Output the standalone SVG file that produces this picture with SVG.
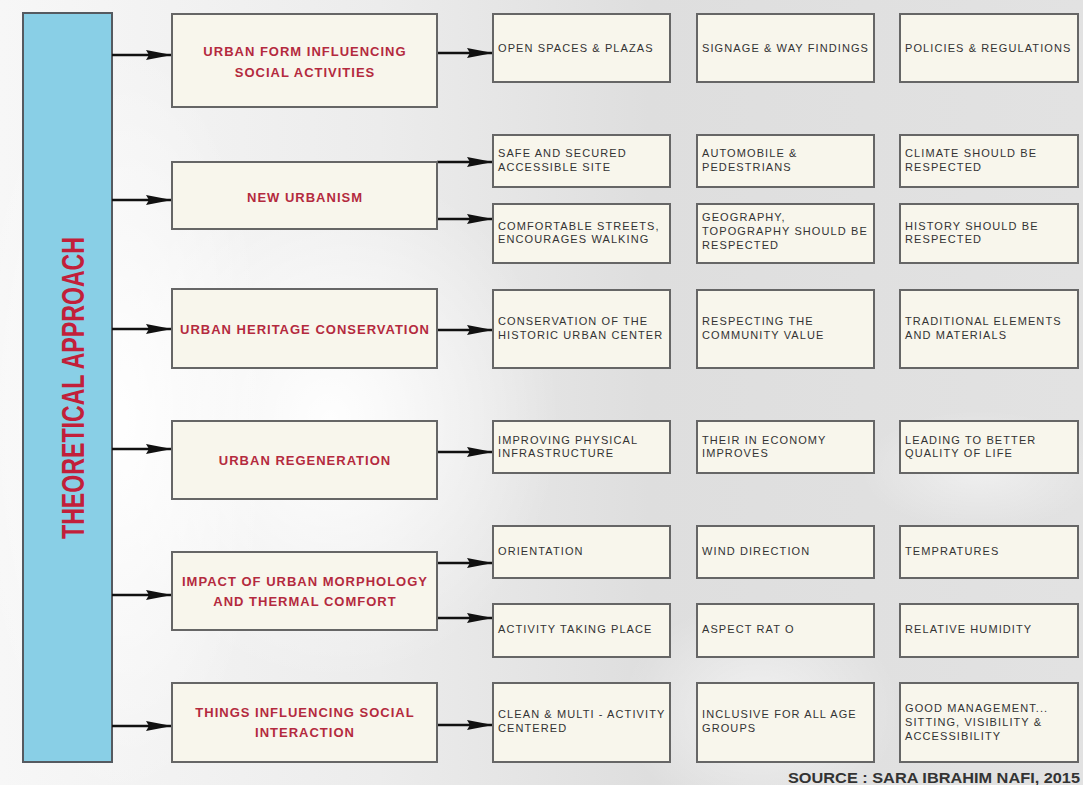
<svg xmlns="http://www.w3.org/2000/svg" width="1083" height="785" viewBox="0 0 1083 785">
  <defs>
    <linearGradient id="bg" x1="0" y1="0" x2="1" y2="0">
      <stop offset="0" stop-color="#f7f7f7"/>
      <stop offset="0.35" stop-color="#ececec"/>
      <stop offset="0.6" stop-color="#dedede"/>
      <stop offset="1" stop-color="#e2e2e2"/>
    </linearGradient>
    <radialGradient id="glow1" cx="0.5" cy="0.5" r="0.5">
      <stop offset="0" stop-color="#ffffff" stop-opacity="0.95"/>
      <stop offset="1" stop-color="#ffffff" stop-opacity="0"/>
    </radialGradient>
    <marker id="arrow" viewBox="0 0 26 10" refX="26" refY="5" markerWidth="26" markerHeight="10" markerUnits="userSpaceOnUse" orient="auto">
      <path d="M0,0 L26,5 L0,10 L3,5 z" fill="#111"/>
    </marker>
    <style>
      .box { fill: #f8f6ec; stroke: #666; stroke-width: 2; }
      .bar { fill: #89cfe6; stroke: #555a60; stroke-width: 2; }
      .mid { font-family: "Liberation Sans", Arial, sans-serif; font-weight: bold; font-size: 13px; fill: #b42a3e; text-anchor: middle; letter-spacing: 1px; }
      .leaf { font-family: "Liberation Sans", Arial, sans-serif; font-size: 11px; fill: #333; letter-spacing: 1.1px; }
      .title { font-family: "Liberation Sans", Arial, sans-serif; font-weight: bold; font-size: 31px; fill: #c21f3a; text-anchor: middle; }
      .src { font-family: "Liberation Sans", Arial, sans-serif; font-weight: bold; font-size: 15px; fill: #333; text-anchor: end; }
      .conn line { stroke: #111; stroke-width: 2.6; marker-end: url(#arrow); }
    </style>
  </defs>

  <rect x="0" y="0" width="1083" height="785" fill="url(#bg)"/>
  <ellipse cx="330" cy="420" rx="230" ry="260" fill="url(#glow1)"/>
  <ellipse cx="120" cy="420" rx="150" ry="380" fill="url(#glow1)"/>
  <ellipse cx="760" cy="710" rx="140" ry="110" fill="url(#glow1)" opacity="0.6"/>
  <ellipse cx="980" cy="470" rx="120" ry="60" fill="url(#glow1)" opacity="0.5"/>

  <g id="theoretical-approach">
    <rect class="bar" x="23" y="13" width="89" height="749"/>
    <text class="title" transform="translate(84,388) rotate(-90)" x="0" y="0" textLength="302" lengthAdjust="spacingAndGlyphs">THEORETICAL APPROACH</text>
  </g>

  <g class="conn" id="connectors">
    <line x1="112" y1="55" x2="172" y2="55"/>
    <line x1="112" y1="200" x2="172" y2="200"/>
    <line x1="112" y1="329" x2="172" y2="329"/>
    <line x1="112" y1="449" x2="172" y2="449"/>
    <line x1="112" y1="595" x2="172" y2="595"/>
    <line x1="112" y1="726" x2="172" y2="726"/>
    <line x1="437" y1="53" x2="493" y2="53"/>
    <line x1="437" y1="162" x2="493" y2="162"/>
    <line x1="437" y1="219" x2="493" y2="219"/>
    <line x1="437" y1="330" x2="493" y2="330"/>
    <line x1="437" y1="452" x2="493" y2="452"/>
    <line x1="437" y1="563" x2="493" y2="563"/>
    <line x1="437" y1="618" x2="493" y2="618"/>
    <line x1="437" y1="725" x2="493" y2="725"/>
  </g>

  <g id="urban-form">
    <rect class="box" x="172" y="14" width="265" height="93"/>
    <text class="mid" x="305" y="56">URBAN FORM INFLUENCING</text>
    <text class="mid" x="305" y="77">SOCIAL ACTIVITIES</text>
  </g>
  <g id="new-urbanism">
    <rect class="box" x="172" y="162" width="265" height="67"/>
    <text class="mid" x="305" y="202">NEW URBANISM</text>
  </g>
  <g id="heritage">
    <rect class="box" x="172" y="289" width="265" height="79"/>
    <text class="mid" x="305" y="334">URBAN HERITAGE CONSERVATION</text>
  </g>
  <g id="regeneration">
    <rect class="box" x="172" y="421" width="265" height="78"/>
    <text class="mid" x="305" y="465">URBAN REGENERATION</text>
  </g>
  <g id="morphology">
    <rect class="box" x="172" y="552" width="265" height="78"/>
    <text class="mid" x="305" y="586">IMPACT OF URBAN MORPHOLOGY</text>
    <text class="mid" x="305" y="606">AND THERMAL COMFORT</text>
  </g>
  <g id="social-interaction">
    <rect class="box" x="172" y="683" width="265" height="79"/>
    <text class="mid" x="305" y="717">THINGS INFLUENCING SOCIAL</text>
    <text class="mid" x="305" y="737">INTERACTION</text>
  </g>

  <!-- row 1 -->
  <g id="open-spaces">
    <rect class="box" x="493" y="14" width="177" height="68"/>
    <text class="leaf" x="498" y="52">OPEN SPACES &amp; PLAZAS</text>
  </g>
  <g id="signage">
    <rect class="box" x="697" y="14" width="177" height="68"/>
    <text class="leaf" x="702" y="52">SIGNAGE &amp; WAY FINDINGS</text>
  </g>
  <g id="policies">
    <rect class="box" x="900" y="14" width="178" height="68"/>
    <text class="leaf" x="905" y="52">POLICIES &amp; REGULATIONS</text>
  </g>

  <!-- row 2a -->
  <g id="safe-site">
    <rect class="box" x="493" y="135" width="177" height="52"/>
    <text class="leaf" x="498" y="157">SAFE AND SECURED</text>
    <text class="leaf" x="498" y="171">ACCESSIBLE SITE</text>
  </g>
  <g id="automobile">
    <rect class="box" x="697" y="135" width="177" height="52"/>
    <text class="leaf" x="702" y="157">AUTOMOBILE &amp;</text>
    <text class="leaf" x="702" y="171">PEDESTRIANS</text>
  </g>
  <g id="climate">
    <rect class="box" x="900" y="135" width="178" height="52"/>
    <text class="leaf" x="905" y="157">CLIMATE SHOULD BE</text>
    <text class="leaf" x="905" y="171">RESPECTED</text>
  </g>

  <!-- row 2b -->
  <g id="streets">
    <rect class="box" x="493" y="204" width="177" height="59"/>
    <text class="leaf" x="498" y="230">COMFORTABLE STREETS,</text>
    <text class="leaf" x="498" y="243">ENCOURAGES WALKING</text>
  </g>
  <g id="geography">
    <rect class="box" x="697" y="204" width="177" height="59"/>
    <text class="leaf" x="702" y="221">GEOGRAPHY,</text>
    <text class="leaf" x="702" y="235">TOPOGRAPHY SHOULD BE</text>
    <text class="leaf" x="702" y="249">RESPECTED</text>
  </g>
  <g id="history">
    <rect class="box" x="900" y="204" width="178" height="59"/>
    <text class="leaf" x="905" y="230">HISTORY SHOULD BE</text>
    <text class="leaf" x="905" y="243">RESPECTED</text>
  </g>

  <!-- row 3 -->
  <g id="conservation">
    <rect class="box" x="493" y="290" width="177" height="78"/>
    <text class="leaf" x="498" y="325">CONSERVATION OF THE</text>
    <text class="leaf" x="498" y="339">HISTORIC URBAN CENTER</text>
  </g>
  <g id="community">
    <rect class="box" x="697" y="290" width="177" height="78"/>
    <text class="leaf" x="702" y="325">RESPECTING THE</text>
    <text class="leaf" x="702" y="339">COMMUNITY VALUE</text>
  </g>
  <g id="traditional">
    <rect class="box" x="900" y="290" width="178" height="78"/>
    <text class="leaf" x="905" y="325">TRADITIONAL ELEMENTS</text>
    <text class="leaf" x="905" y="339">AND MATERIALS</text>
  </g>

  <!-- row 4 -->
  <g id="infrastructure">
    <rect class="box" x="493" y="421" width="177" height="52"/>
    <text class="leaf" x="498" y="444">IMPROVING PHYSICAL</text>
    <text class="leaf" x="498" y="457">INFRASTRUCTURE</text>
  </g>
  <g id="economy">
    <rect class="box" x="697" y="421" width="177" height="52"/>
    <text class="leaf" x="702" y="444">THEIR IN ECONOMY</text>
    <text class="leaf" x="702" y="457">IMPROVES</text>
  </g>
  <g id="quality">
    <rect class="box" x="900" y="421" width="178" height="52"/>
    <text class="leaf" x="905" y="444">LEADING TO BETTER</text>
    <text class="leaf" x="905" y="457">QUALITY OF LIFE</text>
  </g>

  <!-- row 5a -->
  <g id="orientation">
    <rect class="box" x="493" y="526" width="177" height="52"/>
    <text class="leaf" x="498" y="555">ORIENTATION</text>
  </g>
  <g id="wind">
    <rect class="box" x="697" y="526" width="177" height="52"/>
    <text class="leaf" x="702" y="555">WIND DIRECTION</text>
  </g>
  <g id="temperatures">
    <rect class="box" x="900" y="526" width="178" height="52"/>
    <text class="leaf" x="905" y="555">TEMPRATURES</text>
  </g>

  <!-- row 5b -->
  <g id="activity">
    <rect class="box" x="493" y="604" width="177" height="53"/>
    <text class="leaf" x="498" y="633">ACTIVITY TAKING PLACE</text>
  </g>
  <g id="aspect">
    <rect class="box" x="697" y="604" width="177" height="53"/>
    <text class="leaf" x="702" y="633">ASPECT RAT O</text>
  </g>
  <g id="humidity">
    <rect class="box" x="900" y="604" width="178" height="53"/>
    <text class="leaf" x="905" y="633">RELATIVE HUMIDITY</text>
  </g>

  <!-- row 6 -->
  <g id="clean">
    <rect class="box" x="493" y="683" width="177" height="79"/>
    <text class="leaf" x="498" y="718">CLEAN &amp; MULTI - ACTIVITY</text>
    <text class="leaf" x="498" y="732">CENTERED</text>
  </g>
  <g id="inclusive">
    <rect class="box" x="697" y="683" width="177" height="79"/>
    <text class="leaf" x="702" y="718">INCLUSIVE FOR ALL AGE</text>
    <text class="leaf" x="702" y="732">GROUPS</text>
  </g>
  <g id="management">
    <rect class="box" x="900" y="683" width="178" height="79"/>
    <text class="leaf" x="905" y="712">GOOD MANAGEMENT...</text>
    <text class="leaf" x="905" y="726">SITTING, VISIBILITY &amp;</text>
    <text class="leaf" x="905" y="740">ACCESSIBILITY</text>
  </g>

  <text class="src" x="1080" y="783" textLength="292" lengthAdjust="spacingAndGlyphs">SOURCE : SARA IBRAHIM NAFI, 2015</text>
</svg>
